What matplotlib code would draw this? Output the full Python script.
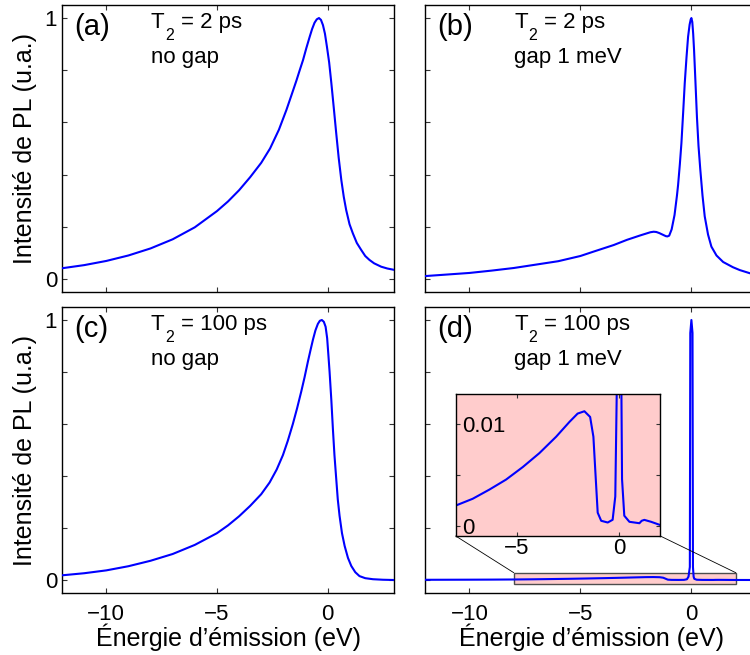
import numpy as np
import matplotlib
matplotlib.use('Agg')
import matplotlib.pyplot as plt
from matplotlib.patches import Rectangle, ConnectionPatch

plt.rcParams['font.family'] = ['Liberation Sans', 'DejaVu Sans']

# Spectres (énergie en eV, intensité normalisée)
x_a = [-12, -11, -10, -9, -8, -7, -6, -5, -4.5, -4, -3.5, -3, -2.6, -2.2, -1.86,
       -1.63, -1.41, -1.26, -1.11, -0.96, -0.81, -0.7, -0.59, -0.49, -0.39, -0.3,
       -0.21, -0.12, -0.03, 0.07, 0.17, 0.28, 0.39, 0.5, 0.62, 0.73, 0.84, 0.99,
       1.14, 1.32, 1.52, 1.7, 1.89, 2.1, 2.42, 2.7, 3.0]
y_a = [0.041, 0.053, 0.069, 0.090, 0.117, 0.152, 0.198, 0.260, 0.297, 0.340, 0.390,
       0.445, 0.500, 0.572, 0.648, 0.705, 0.760, 0.800, 0.839, 0.885, 0.928, 0.958,
       0.982, 0.995, 1.000, 0.993, 0.973, 0.940, 0.890, 0.830, 0.750, 0.655, 0.558,
       0.465, 0.379, 0.315, 0.264, 0.210, 0.175, 0.138, 0.111, 0.088, 0.073, 0.060,
       0.047, 0.040, 0.035]

x_b = [-12, -11, -10, -9, -8, -7, -6, -5, -4.4, -3.5, -2.9, -2.3, -2.0, -1.85, -1.7,
       -1.58, -1.45, -1.35, -1.25, -1.15, -1.08, -1.0, -0.89, -0.76, -0.65, -0.6,
       -0.52, -0.45, -0.37, -0.3, -0.22, -0.15, -0.08, -0.03, 0.0, 0.04, 0.08, 0.12,
       0.18, 0.25, 0.32, 0.4, 0.5, 0.6, 0.75, 0.9, 1.13, 1.43, 1.87, 2.18, 2.63, 3.0]
y_b = [0.011, 0.017, 0.023, 0.032, 0.042, 0.055, 0.068, 0.088, 0.105, 0.130, 0.150,
       0.167, 0.175, 0.179, 0.181, 0.180, 0.176, 0.172, 0.168, 0.164, 0.163, 0.166,
       0.190, 0.245, 0.320, 0.360, 0.440, 0.520, 0.640, 0.750, 0.850, 0.928, 0.975,
       0.995, 1.000, 0.985, 0.940, 0.877, 0.760, 0.620, 0.510, 0.420, 0.320, 0.240,
       0.170, 0.124, 0.090, 0.065, 0.045, 0.034, 0.022, 0.017]

x_c = [-12, -11, -10, -9, -8, -7, -6, -5, -4.5, -4, -3.5, -3, -2.62, -2.3, -2.02,
       -1.8, -1.57, -1.38, -1.19, -1.04, -0.89, -0.77, -0.66, -0.55, -0.44, -0.35,
       -0.26, -0.17, -0.09, -0.02, 0.04, 0.09, 0.17, 0.24, 0.31, 0.39, 0.46, 0.54,
       0.65, 0.77, 0.92, 1.07, 1.25, 1.44, 1.7, 2.05, 2.5, 3.0]
y_c = [0.018, 0.026, 0.037, 0.053, 0.074, 0.100, 0.135, 0.180, 0.210, 0.245, 0.285,
       0.330, 0.375, 0.425, 0.480, 0.535, 0.600, 0.660, 0.725, 0.780, 0.840, 0.885,
       0.925, 0.960, 0.985, 0.997, 1.000, 0.993, 0.974, 0.930, 0.860, 0.800, 0.690,
       0.580, 0.480, 0.389, 0.310, 0.247, 0.180, 0.131, 0.085, 0.054, 0.030, 0.015,
       0.007, 0.003, 0.001, 0.0]

x_d = [-12, -11, -10, -9, -8, -7.17, -6.35, -5.54, -4.72, -3.91, -3.09, -2.44, -2.04,
       -1.71, -1.43, -1.27, -1.17, -1.06, -0.89, -0.57, -0.33, -0.2, -0.13, -0.07,
       -0.05, 0.0, 0.05, 0.07, 0.1, 0.13, 0.24, 0.49, 0.98, 1.09, 1.22, 1.55, 1.97,
       2.5, 3.0]
y_d = [0.0008, 0.0010, 0.0012, 0.0015, 0.0020, 0.00267, 0.00358, 0.00456, 0.0058,
       0.00717, 0.00879, 0.01025, 0.01107, 0.0113, 0.01074, 0.00879, 0.0052, 0.0013,
       0.0005, 0.00033, 0.0006, 0.0029, 0.013, 0.05, 0.95, 1.0, 0.95, 0.05, 0.013,
       0.0046, 0.001, 0.0004, 0.00026, 0.0005, 0.00059, 0.0004, 0.0001, 0.00005,
       0.00003]

panel_labels = ['(a)', '(b)', '(c)', '(d)']
t2_labels = ['2 ps', '2 ps', '100 ps', '100 ps']
gap_labels = ['no gap', 'gap 1 meV', 'no gap', 'gap 1 meV']
xs = [x_a, x_b, x_c, x_d]
ys = [y_a, y_b, y_c, y_d]

blue = '#0000FF'
pink = (1.0, 0.8, 0.8)

fig = plt.figure(figsize=(7.5, 6.55), dpi=100)
W, H = 750, 655
boxes = [(62, 5, 394, 292), (425, 5, 758, 292),
         (62, 307, 394, 593), (425, 307, 758, 593)]
axes = []
for (l, t, r, b) in boxes:
    axes.append(fig.add_axes([l / W, (H - b) / H, (r - l) / W, (b - t) / H]))

for i, ax in enumerate(axes):
    ax.plot(xs[i], ys[i], color=blue, lw=1.5, zorder=3)
    ax.set_xlim(-12, 3)
    ax.set_ylim(-0.05, 1.05)
    ax.set_xticks([-10, -5, 0])
    ax.set_yticks([0, 0.2, 0.4, 0.6, 0.8, 1])
    if i % 2 == 0:
        ax.set_yticklabels(['0', '', '', '', '', '1'])
        ax.set_ylabel('Intensité de PL (u.a.)', fontsize=18)
        ax.yaxis.set_label_coords(-0.076, 0.5)
    else:
        ax.set_yticklabels([])
    if i < 2:
        ax.set_xticklabels([])
    else:
        ax.set_xlabel('Énergie d’émission (eV)', fontsize=18)
        ax.xaxis.set_label_coords(0.5, -0.108)
    ax.tick_params(direction='in', top=True, right=True, length=3.5, width=0.8,
                   labelsize=16, color='0.2')
    ax.tick_params(axis='x', pad=8)
    ax.tick_params(axis='y', pad=3.5)
    for s in ax.spines.values():
        s.set_linewidth(1.0)

    ax.text(0.036, 0.922, panel_labels[i], transform=ax.transAxes, fontsize=21,
            va='center', ha='left')
    # T avec indice 2 bien abaissé, comme sur l'original
    ax.text(0.268, 0.92, 'T', transform=ax.transAxes, fontsize=16,
            va='baseline', ha='left')
    ax.text(0.310, 0.878, '2', transform=ax.transAxes, fontsize=11.5,
            va='baseline', ha='left')
    ax.text(0.358, 0.92, '= ' + t2_labels[i], transform=ax.transAxes,
            fontsize=16, va='baseline', ha='left')
    ax.text(0.268, 0.798, gap_labels[i], transform=ax.transAxes,
            fontsize=16, va='baseline', ha='left')

# zone agrandie dans (d)
ax_d = axes[3]
zoom_x0, zoom_x1 = -8, 2
zoom_y0, zoom_y1 = -0.015, 0.028
ax_d.add_patch(Rectangle((zoom_x0, zoom_y0), zoom_x1 - zoom_x0, zoom_y1 - zoom_y0,
                         facecolor=pink, edgecolor='0.3', lw=1.0, zorder=2))

# encart
axins = fig.add_axes([455.7 / W, (H - 536) / H, 204.6 / W, 142 / H])
axins.set_facecolor(pink)
axins.plot(x_d, y_d, color=blue, lw=1.5)
axins.set_xlim(zoom_x0, zoom_x1)
axins.set_ylim(-0.001, 0.013)
axins.set_xticks([-5, 0])
axins.set_yticks([0, 0.005, 0.01])
axins.set_yticklabels(['0', '', '0.01'])
axins.tick_params(direction='in', top=True, right=True, length=3, width=0.8,
                  labelsize=16, color='0.2')
axins.tick_params(axis='x', pad=1.5)
axins.tick_params(axis='y', pad=-4.5)
for lbl in axins.get_yticklabels():
    lbl.set_horizontalalignment('left')
for s in axins.spines.values():
    s.set_linewidth(1.0)

for xa, xb in [((0, 0), (zoom_x0, zoom_y1)), ((1, 0), (zoom_x1, zoom_y1))]:
    con = ConnectionPatch(xyA=xa, coordsA=axins.transAxes, xyB=xb,
                          coordsB=ax_d.transData, color='k', lw=0.6)
    fig.add_artist(con)

fig.savefig('out.png', dpi=100)
